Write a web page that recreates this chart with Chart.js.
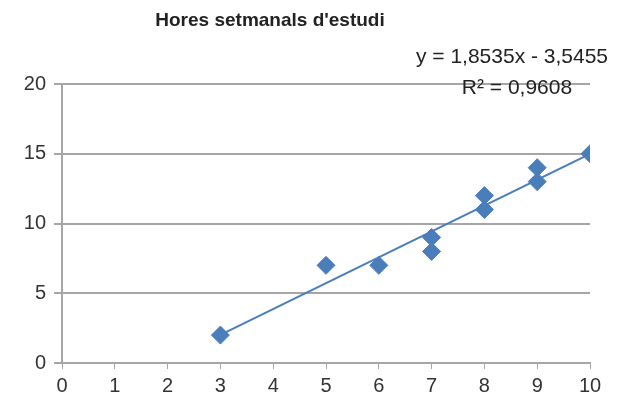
<!DOCTYPE html>
<html>
<head>
<meta charset="utf-8">
<script src="https://cdn.jsdelivr.net/npm/chart.js@4"></script>
<style>
  html, body { margin: 0; padding: 0; background: #fff; }
  #wrap { width: 626px; height: 412px; }
</style>
</head>
<body>
<div id="wrap"><canvas id="chart" width="626" height="412"></canvas></div>
<script>
// Data
const hoursX = [3, 5, 6, 7, 7, 8, 8, 9, 9, 10];
const scoreY = [2, 7, 7, 8, 9, 11, 12, 13, 14, 15];
// Trendline as printed on the chart
const slope = 1.8535;
const intercept = -3.5455;
const rSquared = '0,9608';
const titleText = "Hores setmanals d'estudi";

const blue = '#4a7ebb';
const font = "'Liberation Sans', Arial, sans-serif";

const points = hoursX.map((x, i) => ({ x: x, y: scoreY[i] }));
const xMin = Math.min(...hoursX), xMax = Math.max(...hoursX);
const trend = [xMin, xMax].map(x => ({ x: x, y: slope * x + intercept }));

// title and trendline label, drawn as text
const labels = {
  id: 'labels',
  afterDraw(chart) {
    const ctx = chart.ctx;
    ctx.save();
    ctx.fillStyle = '#222';
    ctx.textAlign = 'center';
    ctx.textBaseline = 'middle';
    ctx.font = 'bold 19px ' + font;
    ctx.fillText(titleText, 270, 21);
    ctx.font = '21px ' + font;
    const fmt = v => Math.abs(v).toFixed(4).replace('.', ',');
    ctx.fillText('y = ' + fmt(slope) + 'x - ' + fmt(intercept), 512, 57);
    ctx.fillText('R² = ' + rSquared, 517, 88);
    ctx.restore();
  }
};

new Chart(document.getElementById('chart'), {
  type: 'scatter',
  data: {
    datasets: [
      {
        type: 'line',
        data: trend,
        borderColor: blue,
        borderWidth: 2,
        pointRadius: 0,
        fill: false,
        order: 2
      },
      {
        data: points,
        pointStyle: 'rectRot',
        pointRadius: 9,
        backgroundColor: blue,
        borderColor: blue,
        borderWidth: 1,
        order: 1
      }
    ]
  },
  options: {
    responsive: false,
    animation: false,
    layout: { padding: { top: 84, right: 36, left: 0, bottom: 0 } },
    plugins: { legend: { display: false }, tooltip: { enabled: false } },
    scales: {
      x: {
        type: 'linear',
        min: 0, max: 10,
        ticks: { stepSize: 1, color: '#333', font: { family: font, size: 20 }, padding: 5 },
        grid: { drawOnChartArea: false, drawTicks: true, tickLength: 6, color: '#a6a6a6' },
        border: { color: '#a6a6a6', width: 2 },
        afterFit: s => { s.height = 49; }
      },
      y: {
        min: 0, max: 20,
        ticks: { stepSize: 5, color: '#333', font: { family: font, size: 20 }, padding: 8 },
        grid: { color: '#a6a6a6', lineWidth: 2, tickLength: 8 },
        border: { color: '#a6a6a6', width: 2 },
        afterFit: s => { s.width = 62; }
      }
    }
  },
  plugins: [labels]
});
</script>
</body>
</html>
